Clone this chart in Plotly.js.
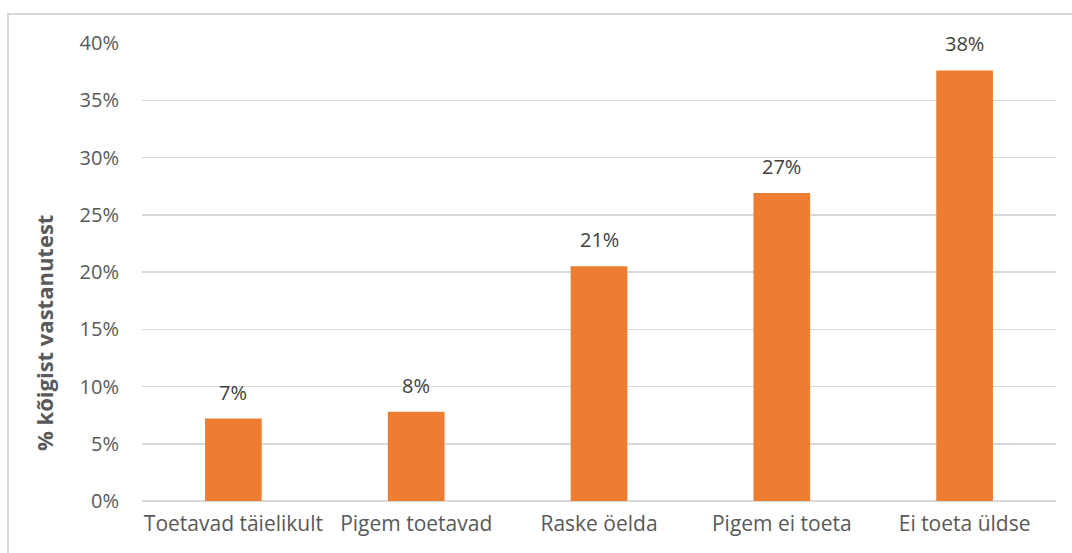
<!DOCTYPE html>
<html>
<head>
<meta charset="utf-8">
<script src="https://cdn.plot.ly/plotly-3.0.1.min.js"></script>
<style>
html,body{margin:0;padding:0;background:#fff;overflow:hidden;}
#frame{position:absolute;left:7px;top:13px;width:1100px;height:600px;border:2px solid #d9d9d9;box-sizing:border-box;}
#chart{position:absolute;left:0;top:0;width:1072px;height:553px;}
</style>
</head>
<body>
<div id="frame"></div>
<div id="chart"></div>
<script>
const categories = ["Toetavad täielikult", "Pigem toetavad", "Raske öelda", "Pigem ei toeta", "Ei toeta üldse"];
const values = [7.2, 7.8, 20.5, 26.9, 37.6];
const labels = values.map(v => Math.round(v) + "%");
const tickVals = [0, 5, 10, 15, 20, 25, 30, 35, 40];
const tickText = tickVals.map(v => v + "%");

const font = "'Open Sans', sans-serif";
const W = 1072, H = 553, mL = 142, mR = 16, mT = 43, mB = 52;
const plotH = H - mT - mB, plotW = W - mL - mR;

const annotations = categories.map((c, i) => ({
  x: c, y: values[i], xref: "x", yref: "y",
  text: labels[i], showarrow: false,
  yanchor: "bottom", yshift: 11,
  font: {family: font, size: 20, color: "#404040"}
}));
annotations.push({
  xref: "paper", yref: "paper",
  x: (44 - mL) / plotW, y: (H - mB - 333) / plotH,
  xanchor: "center", yanchor: "middle",
  text: "<b>% kõigist vastanutest</b>", textangle: -90, showarrow: false,
  font: {family: font, size: 22, color: "#595959"}
});

Plotly.newPlot("chart", [{
  type: "bar",
  x: categories,
  y: values,
  marker: {color: "#ED7D31"},
  width: 0.31,
  hoverinfo: "none"
}], {
  width: W, height: H,
  margin: {l: mL, r: mR, t: mT, b: mB},
  paper_bgcolor: "rgba(0,0,0,0)",
  plot_bgcolor: "rgba(0,0,0,0)",
  showlegend: false,
  font: {family: font, color: "#595959", size: 20},
  annotations: annotations,
  xaxis: {
    showgrid: false, zeroline: false, showline: false, ticks: "",
    tickfont: {family: font, size: 21, color: "#595959"},
    ticklabelstandoff: 8
  },
  yaxis: {
    range: [0, 40], tickvals: tickVals, ticktext: tickText,
    showgrid: true, gridcolor: "#d9d9d9", gridwidth: 1.5,
    zeroline: true, zerolinecolor: "#d9d9d9", zerolinewidth: 1.5,
    showline: false, ticks: "",
    tickfont: {family: font, size: 20, color: "#595959"},
    ticklabelstandoff: 22
  }
}, {staticPlot: true});
</script>
</body>
</html>
